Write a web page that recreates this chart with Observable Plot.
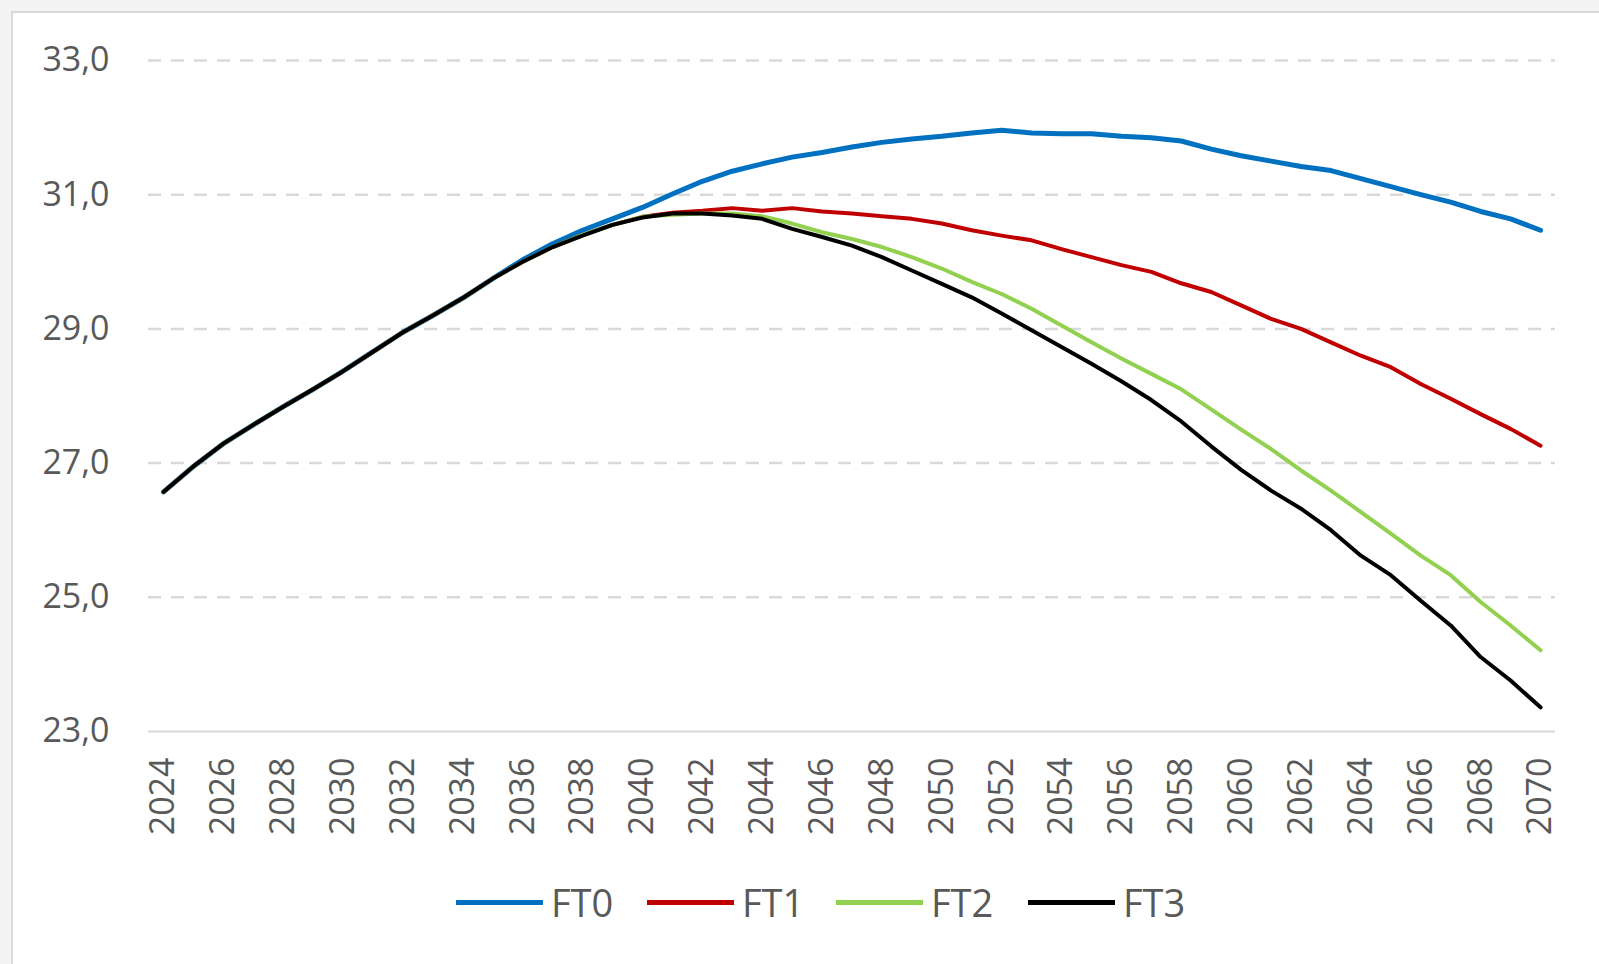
<!DOCTYPE html>
<html>
<head>
<meta charset="utf-8">
<script src="https://cdn.jsdelivr.net/npm/d3@7"></script>
<script src="https://cdn.jsdelivr.net/npm/@observablehq/plot@0.6"></script>
<style>
  html, body { margin: 0; padding: 0; background: #f3f3f3; width: 1599px; height: 964px; overflow: hidden; }
  #frame { position: absolute; left: 11px; top: 11px; right: 0; bottom: 0; background: #fff; border-left: 2px solid #d9d9d9; border-top: 2px solid #d9d9d9; }
  #chart { position: absolute; left: 0; top: 0; }
  #legend { position: absolute; left: 0; top: 0; width: 1599px; height: 964px; pointer-events: none; }
  .item { position: absolute; top: 876px; display: flex; align-items: center; font-family: "Liberation Sans Narrow", "Open Sans", sans-serif; font-size: 38px; color: #595959; }
  .swatch { width: 87px; height: 5px; margin-right: 8px; }
</style>
</head>
<body>
<div id="frame"></div>
<div id="chart"></div>
<div id="legend"></div>
<script>
const years = d3.range(2024, 2071);
const seriesNames = ["FT0", "FT1", "FT2", "FT3"];
const seriesColors = ["#0070c0", "#c00000", "#92d050", "#000000"];
const ft0 = [26.57, 26.95, 27.29, 27.57, 27.84, 28.10, 28.37, 28.66, 28.95, 29.20, 29.46, 29.75,
  30.03, 30.27, 30.47, 30.64, 30.81, 31.01, 31.20, 31.35, 31.46, 31.56, 31.63, 31.71, 31.78, 31.83,
  31.87, 31.92, 31.96, 31.92, 31.91, 31.91, 31.87, 31.85, 31.80, 31.68, 31.58, 31.50, 31.42, 31.36,
  31.24, 31.12, 31.00, 30.89, 30.75, 30.64, 30.47];
const ft1 = [26.57, 26.95, 27.29, 27.57, 27.84, 28.10, 28.37, 28.66, 28.95, 29.20, 29.46, 29.75,
  30.00, 30.22, 30.40, 30.55, 30.67, 30.73, 30.76, 30.80, 30.76, 30.80, 30.75, 30.72, 30.68, 30.64,
  30.57, 30.47, 30.39, 30.32, 30.19, 30.07, 29.95, 29.85, 29.68, 29.55, 29.35, 29.15, 29.00, 28.80,
  28.60, 28.43, 28.18, 27.96, 27.73, 27.51, 27.26];
const ft2 = [26.57, 26.95, 27.29, 27.57, 27.84, 28.10, 28.37, 28.66, 28.95, 29.20, 29.46, 29.75,
  30.00, 30.22, 30.40, 30.55, 30.67, 30.70, 30.72, 30.72, 30.68, 30.57, 30.44, 30.34, 30.22, 30.07,
  29.90, 29.70, 29.52, 29.30, 29.05, 28.80, 28.56, 28.33, 28.10, 27.80, 27.50, 27.21, 26.89, 26.59,
  26.27, 25.95, 25.62, 25.33, 24.93, 24.58, 24.21];
const ft3 = [26.57, 26.95, 27.29, 27.57, 27.84, 28.10, 28.37, 28.66, 28.95, 29.20, 29.46, 29.75,
  30.00, 30.22, 30.39, 30.55, 30.66, 30.72, 30.72, 30.69, 30.64, 30.49, 30.37, 30.24, 30.07, 29.87,
  29.67, 29.47, 29.23, 28.98, 28.73, 28.48, 28.22, 27.94, 27.62, 27.25, 26.90, 26.59, 26.32, 26.00,
  25.62, 25.33, 24.95, 24.58, 24.11, 23.76, 23.36];
const yTicks = [23, 25, 27, 29, 31, 33];
const xTicks = d3.range(2024, 2071, 2);

const seriesValues = [ft0, ft1, ft2, ft3];
const widths = [5, 4, 4, 4];

const lineMarks = seriesValues.map((vals, i) =>
  Plot.line(years.map((yr, j) => ({year: yr, value: vals[j]})), {
    x: "year", y: "value", stroke: seriesColors[i], strokeWidth: widths[i],
    strokeLinejoin: "round", strokeLinecap: "round"
  })
);

const chart = Plot.plot({
  width: 1599,
  height: 860,
  marginLeft: 148,
  marginRight: 44,
  marginTop: 60,
  marginBottom: 129,
  style: { background: "transparent", fontFamily: "'Open Sans', sans-serif", fontSize: "34px", color: "#595959" },
  x: { domain: [2023.5, 2070.5] },
  y: { domain: [23, 33] },
  marks: [
    Plot.ruleY(yTicks.filter(d => d !== 23), { stroke: "#d9d9d9", strokeWidth: 2.5, strokeDasharray: "13,10" }),
    Plot.ruleY([23], { stroke: "#d9d9d9", strokeWidth: 2 }),
    Plot.axisY({ ticks: yTicks, tickSize: 0, tickPadding: 39, label: null, fill: "#595959",
      tickFormat: d => d.toFixed(1).replace(".", ",") }),
    Plot.axisX({ ticks: xTicks, tickSize: 0, tickPadding: 26, tickRotate: -90, label: null, fill: "#595959",
      tickFormat: d => String(d) }),
    ...lineMarks
  ]
});
document.getElementById("chart").appendChild(chart);

const legendLefts = [456, 647, 836, 1028];
const legend = document.getElementById("legend");
seriesNames.forEach((name, i) => {
  const item = document.createElement("div");
  item.className = "item";
  item.style.left = legendLefts[i] + "px";
  const sw = document.createElement("span");
  sw.className = "swatch";
  sw.style.background = seriesColors[i];
  const tx = document.createElement("span");
  tx.textContent = name;
  item.appendChild(sw);
  item.appendChild(tx);
  legend.appendChild(item);
});
</script>
</body>
</html>
